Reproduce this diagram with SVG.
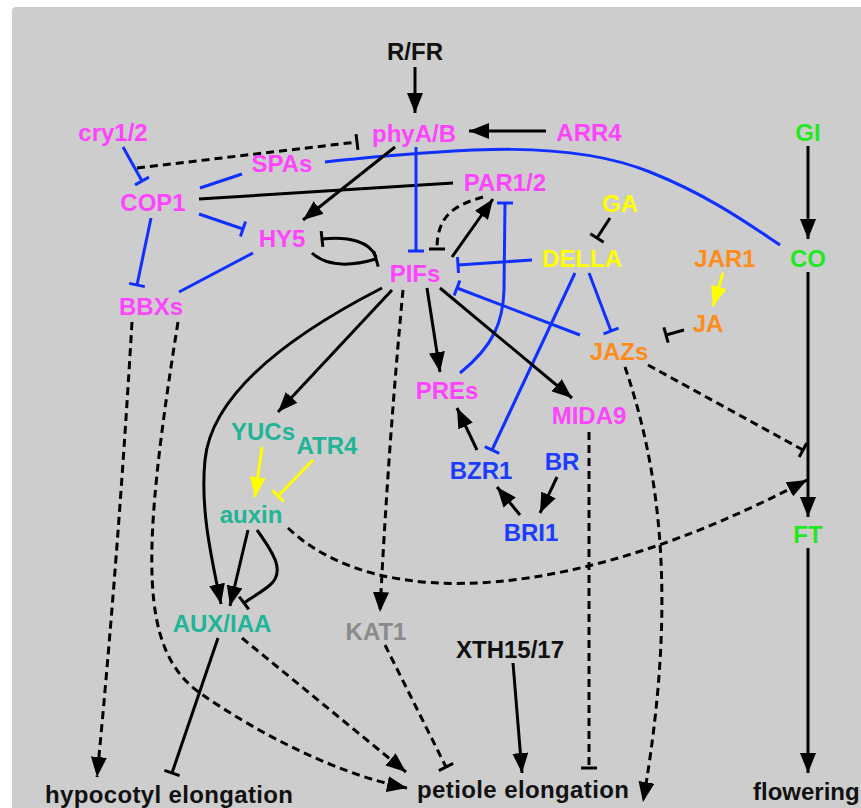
<svg xmlns="http://www.w3.org/2000/svg" width="861" height="808" viewBox="0 0 861 808">
<style>
text{font-family:"Liberation Sans",Arial,sans-serif;font-weight:bold;font-size:24px;text-anchor:middle}
.m{fill:#ff44ff}.y{fill:#ffff00}.o{fill:#ff8c1a}.g{fill:#22e822}.t{fill:#1fb596}.b{fill:#1c3dff}.k{fill:#111}.gr{fill:#8a8a8a}
.c{fill:none;stroke-width:3}
.ck{stroke:#000}.cb{stroke:#1030ff}.cy{stroke:#ffff00}
.d{stroke-dasharray:8 5}
</style>
<defs>
<marker id="ak" viewBox="0 0 20 16" refX="20" refY="8" markerWidth="20" markerHeight="16" markerUnits="userSpaceOnUse" orient="auto"><path d="M0,0 L20,8 L0,16 Z" fill="#000"/></marker>
<marker id="ay" viewBox="0 0 20 16" refX="20" refY="8" markerWidth="20" markerHeight="16" markerUnits="userSpaceOnUse" orient="auto"><path d="M0,0 L20,8 L0,16 Z" fill="#ffff00"/></marker>
<marker id="tk" viewBox="-2 -9 4 18" refX="0" refY="0" markerWidth="4" markerHeight="18" markerUnits="userSpaceOnUse" orient="auto"><path d="M0,-8 V8" stroke="#000" stroke-width="3"/></marker>
<marker id="tb" viewBox="-2 -9 4 18" refX="0" refY="0" markerWidth="4" markerHeight="18" markerUnits="userSpaceOnUse" orient="auto"><path d="M0,-8 V8" stroke="#1030ff" stroke-width="3"/></marker>
<marker id="ty" viewBox="-2 -9 4 18" refX="0" refY="0" markerWidth="4" markerHeight="18" markerUnits="userSpaceOnUse" orient="auto"><path d="M0,-8 V8" stroke="#ffff00" stroke-width="3"/></marker>
</defs>
<rect x="0" y="0" width="861" height="808" fill="#fff"/>
<rect x="12" y="7" width="860" height="820" rx="4" fill="#cdcdcd"/>
<g id="connectors">
<path class="c ck" d="M415,67 L415,113" marker-end="url(#ak)"/>
<path class="c ck" d="M546,131 L469,131" marker-end="url(#ak)"/>
<path class="c ck" d="M808,146 L808,239" marker-end="url(#ak)"/>
<path class="c ck" d="M808,272 L808,517" marker-end="url(#ak)"/>
<path class="c ck" d="M808,548 L808,773" marker-end="url(#ak)"/>
<path class="c cb" d="M123,147 L142,181" marker-end="url(#tb)"/>
<path class="c ck d" d="M137,168 L357,142" marker-end="url(#tk)"/>
<path class="c cb" d="M325,162 C470,147 570,140 650,172 C710,196 750,225 780,245"/>
<path class="c cb" d="M242,174 L200,188"/>
<path class="c ck" d="M199,199 L453,183"/>
<path class="c cb" d="M199,214 L243,229" marker-end="url(#tb)"/>
<path class="c cb" d="M151,218 L137,285" marker-end="url(#tb)"/>
<path class="c cb" d="M253,253 L179,292"/>
<path class="c ck" d="M395,147 L303,220" marker-end="url(#ak)"/>
<path class="c cb" d="M416,147 L416,251" marker-end="url(#tb)"/>
<path class="c ck" d="M376,257 C370,242 350,236 322,239" marker-end="url(#tk)"/>
<path class="c ck" d="M312,253 C325,265 345,268 376,259" marker-end="url(#tk)"/>
<path class="c ck d" d="M483,197 C455,205 437,215 437,249" marker-end="url(#tk)"/>
<path class="c ck" d="M452,257 L493,199" marker-end="url(#ak)"/>
<path class="c cb" d="M460,373 C495,345 503,320 504,290 L505,203" marker-end="url(#tb)"/>
<path class="c cb" d="M532,260 L458,265" marker-end="url(#tb)"/>
<path class="c cb" d="M580,335 L457,288" marker-end="url(#tb)"/>
<path class="c ck" d="M610,218 L597,238" marker-end="url(#tk)"/>
<path class="c cb" d="M589,273 L611,331" marker-end="url(#tb)"/>
<path class="c cb" d="M575,273 L492,450" marker-end="url(#tb)"/>
<path class="c cy" d="M723,273 L713,306" marker-end="url(#ay)"/>
<path class="c ck" d="M684,330 L666,335" marker-end="url(#tk)"/>
<path class="c ck" d="M427,288 L440,372" marker-end="url(#ak)"/>
<path class="c ck" d="M440,288 L572,398" marker-end="url(#ak)"/>
<path class="c ck" d="M392,290 L278,412" marker-end="url(#ak)"/>
<path class="c ck" d="M382,288 C300,330 212,390 205,460 C200,510 212,560 221,604" marker-end="url(#ak)"/>
<path class="c ck" d="M248,530 L230,606" marker-end="url(#ak)"/>
<path class="c ck" d="M257,530 C275,555 285,572 270,585 C262,592 252,597 244,603" marker-end="url(#tk)"/>
<path class="c ck d" d="M403,290 Q388,450 380,612" marker-end="url(#ak)"/>
<path class="c cy" d="M262,447 L255,497" marker-end="url(#ay)"/>
<path class="c cy" d="M313,460 L278,496" marker-end="url(#ty)"/>
<path class="c ck" d="M477,450 L457,408" marker-end="url(#ak)"/>
<path class="c ck" d="M520,515 L497,487" marker-end="url(#ak)"/>
<path class="c ck" d="M557,477 L540,513" marker-end="url(#ak)"/>
<path class="c ck d" d="M589,432 L589,768" marker-end="url(#tk)"/>
<path class="c ck d" d="M625,367 C660,470 678,600 643,802" marker-end="url(#ak)"/>
<path class="c ck d" d="M648,365 L803,450" marker-end="url(#tk)"/>
<path class="c ck d" d="M288,528 C380,615 580,600 807,480" marker-end="url(#ak)"/>
<path class="c ck d" d="M132,322 Q118,560 97,777" marker-end="url(#ak)"/>
<path class="c ck d" d="M178,322 C140,560 140,650 200,693 C260,735 340,775 407,788" marker-end="url(#ak)"/>
<path class="c ck d" d="M242,638 L406,772" marker-end="url(#ak)"/>
<path class="c ck" d="M218,638 L172,773" marker-end="url(#tk)"/>
<path class="c ck d" d="M385,645 L446,767" marker-end="url(#tk)"/>
<path class="c ck" d="M513,663 L522,773" marker-end="url(#ak)"/>
</g>
<g id="RFR"><text class="k" x="415" y="60">R/FR</text></g>
<g id="phyAB"><text class="m" x="414" y="142">phyA/B</text></g>
<g id="cry12"><text class="m" x="113" y="141">cry1/2</text></g>
<g id="ARR4"><text class="m" x="589" y="141">ARR4</text></g>
<g id="GI"><text class="g" x="808" y="141">GI</text></g>
<g id="SPAs"><text class="m" x="282" y="172">SPAs</text></g>
<g id="COP1"><text class="m" x="153" y="211">COP1</text></g>
<g id="PAR12"><text class="m" x="505" y="191">PAR1/2</text></g>
<g id="GA"><text class="y" x="620" y="212">GA</text></g>
<g id="HY5"><text class="m" x="282" y="247">HY5</text></g>
<g id="PIFs"><text class="m" x="415" y="282">PIFs</text></g>
<g id="DELLA"><text class="y" x="582" y="267">DELLA</text></g>
<g id="JAR1"><text class="o" x="725" y="267">JAR1</text></g>
<g id="CO"><text class="g" x="808" y="267">CO</text></g>
<g id="BBXs"><text class="m" x="151" y="315">BBXs</text></g>
<g id="JA"><text class="o" x="708" y="332">JA</text></g>
<g id="JAZs"><text class="o" x="619" y="360">JAZs</text></g>
<g id="PREs"><text class="m" x="447" y="399">PREs</text></g>
<g id="MIDA9"><text class="m" x="589" y="424">MIDA9</text></g>
<g id="YUCs"><text class="t" x="263" y="440">YUCs</text></g>
<g id="ATR4"><text class="t" x="327" y="454">ATR4</text></g>
<g id="BR"><text class="b" x="562" y="470">BR</text></g>
<g id="BZR1"><text class="b" x="481" y="479">BZR1</text></g>
<g id="auxin"><text class="t" x="251" y="523">auxin</text></g>
<g id="BRI1"><text class="b" x="531" y="541">BRI1</text></g>
<g id="FT"><text class="g" x="808" y="543">FT</text></g>
<g id="AUXIAA"><text class="t" x="222" y="632">AUX/IAA</text></g>
<g id="KAT1"><text class="gr" x="376" y="640">KAT1</text></g>
<g id="XTH"><text class="k" x="510" y="658">XTH15/17</text></g>
<g id="hypocotyl"><text class="k" x="169" y="803" textLength="248">hypocotyl elongation</text></g>
<g id="petiole"><text class="k" x="523" y="798" textLength="212">petiole elongation</text></g>
<g id="flowering"><text class="k" x="753" y="800" style="text-anchor:start">flowering</text></g>
</svg>
